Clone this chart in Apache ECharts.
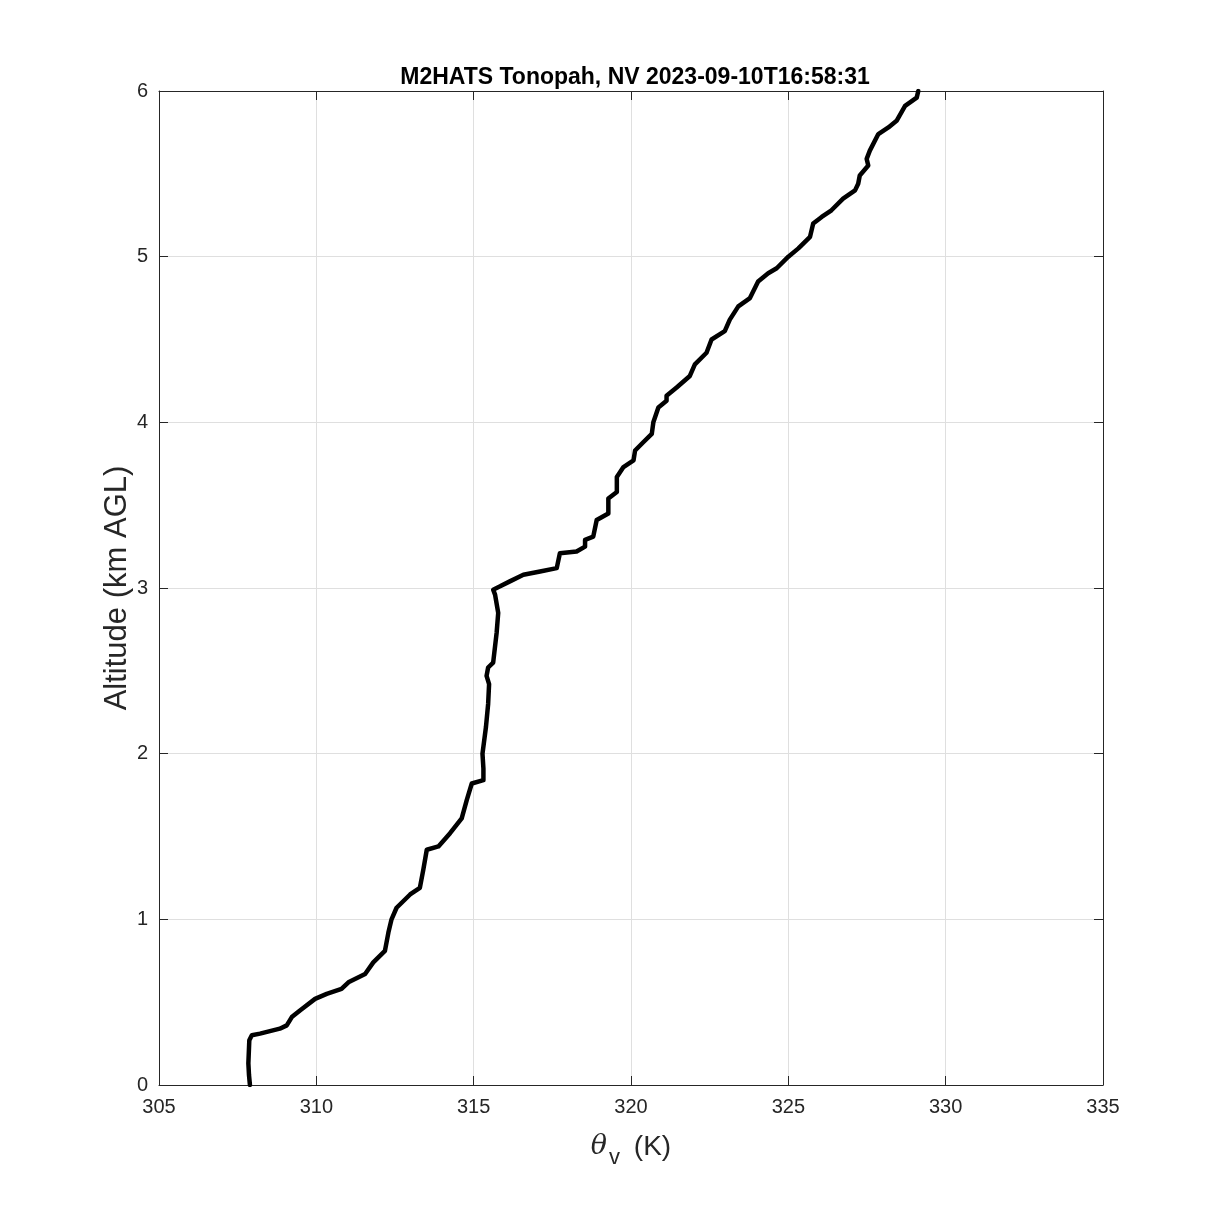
<!DOCTYPE html>
<html><head><meta charset="utf-8">
<script src="https://cdn.jsdelivr.net/npm/echarts@6/dist/echarts.min.js"></script>
<style>html,body{margin:0;padding:0;background:#fff}#c{width:1219px;height:1219px}</style>
</head><body><div id="c"></div>
<script>
const titleText = "M2HATS Tonopah, NV 2023-09-10T16:58:31";
const xTicks = [305, 310, 315, 320, 325, 330, 335];
const yTicks = [0, 1, 2, 3, 4, 5, 6];
const thetaV = [307.89,307.86,307.84,307.87,307.95,308.21,308.84,309.06,309.22,309.48,309.96,310.33,310.80,311.02,311.55,311.81,312.18,312.29,312.39,312.55,312.98,313.29,313.40,313.51,313.88,314.25,314.62,314.78,314.94,315.31,315.31,315.28,315.39,315.46,315.49,315.41,315.46,315.62,315.73,315.78,315.68,315.62,315.84,316.15,316.58,317.11,317.64,317.74,318.27,318.54,318.54,318.80,318.91,319.28,319.28,319.55,319.55,319.76,320.08,320.13,320.39,320.66,320.71,320.87,321.13,321.13,321.45,321.87,322.03,322.40,322.56,322.98,323.14,323.41,323.78,324.04,324.36,324.63,325.00,325.32,325.69,325.79,326.06,326.37,326.74,327.12,327.22,327.27,327.54,327.49,327.59,327.86,328.18,328.44,328.71,329.08,329.13];
const altKm = [0.00,0.06,0.13,0.27,0.30,0.31,0.34,0.36,0.41,0.45,0.52,0.55,0.58,0.62,0.67,0.74,0.81,0.92,1.00,1.07,1.15,1.19,1.30,1.42,1.44,1.52,1.61,1.72,1.82,1.84,1.91,2.00,2.16,2.30,2.42,2.47,2.52,2.55,2.73,2.85,2.96,2.99,3.01,3.04,3.08,3.10,3.12,3.21,3.22,3.25,3.29,3.31,3.41,3.45,3.54,3.58,3.67,3.73,3.77,3.83,3.88,3.93,4.00,4.09,4.13,4.16,4.21,4.28,4.35,4.42,4.50,4.55,4.62,4.70,4.75,4.85,4.90,4.93,5.00,5.05,5.12,5.20,5.24,5.28,5.35,5.40,5.44,5.49,5.55,5.59,5.64,5.74,5.78,5.82,5.91,5.96,6.00];

const data = thetaV.map((t, i) => [t, altKm[i]]);
const font = 'Liberation Sans, Arial, Helvetica, sans-serif';
const axisCol = '#262626';
const chart = echarts.init(document.getElementById('c'), null, {renderer: 'canvas'});
const baseX = {
  type: 'value', min: xTicks[0], max: xTicks[xTicks.length-1], interval: 5,
  axisLine: {show: true, onZero: false, lineStyle: {color: axisCol, width: 1}},
  axisTick: {show: true, inside: true, length: 9, lineStyle: {color: axisCol}},
  splitLine: {show: false}
};
const baseY = {
  type: 'value', min: yTicks[0], max: yTicks[yTicks.length-1], interval: 1,
  axisLine: {show: true, onZero: false, lineStyle: {color: axisCol, width: 1}},
  axisTick: {show: true, inside: true, length: 9, lineStyle: {color: axisCol}},
  splitLine: {show: false}
};
chart.setOption({
  animation: false,
  backgroundColor: '#fff',
  title: {
    text: titleText, left: 630, top: 61, textAlign: 'center',
    textStyle: {fontFamily: font, fontWeight: 'bold', fontSize: 23, color: '#000'}
  },
  grid: {left: 159, right: 116, top: 91, bottom: 134, containLabel: false},
  xAxis: [
    Object.assign({}, baseX, {
      position: 'bottom',
      axisLabel: {show: true, fontFamily: font, fontSize: 20, color: axisCol, margin: 12},
      splitLine: {show: true, lineStyle: {color: '#dfdfdf', width: 1}},
      name: '{t|θ}{s|v}{k| (K)}', nameLocation: 'middle', nameGap: 40,
      nameTextStyle: {
        rich: {
          t: {fontFamily: 'DejaVu Serif, serif', fontStyle: 'italic', fontSize: 27, color: axisCol},
          s: {fontFamily: font, fontSize: 22, color: axisCol, padding: [22, 6, 0, 2]},
          k: {fontFamily: font, fontSize: 28, color: axisCol}
        }
      }
    }),
    Object.assign({}, baseX, {position: 'top', axisLabel: {show: false}})
  ],
  yAxis: [
    Object.assign({}, baseY, {
      position: 'left',
      axisLabel: {show: true, fontFamily: font, fontSize: 20, color: axisCol, margin: 11},
      splitLine: {show: true, lineStyle: {color: '#dfdfdf', width: 1}},
      name: 'Altitude (km AGL)', nameLocation: 'middle', nameGap: 26, nameRotate: 90,
      nameMoveOverlap: false,
      nameTextStyle: {fontFamily: font, fontSize: 31, color: axisCol}
    }),
    Object.assign({}, baseY, {position: 'right', axisLabel: {show: false}})
  ],
  series: [{
    type: 'line', data: data, xAxisIndex: 0, yAxisIndex: 0,
    showSymbol: false, symbol: 'none', smooth: false,
    lineStyle: {color: '#000', width: 4.5, join: 'round', cap: 'round'},
    z: 5
  }]
});
</script></body></html>
